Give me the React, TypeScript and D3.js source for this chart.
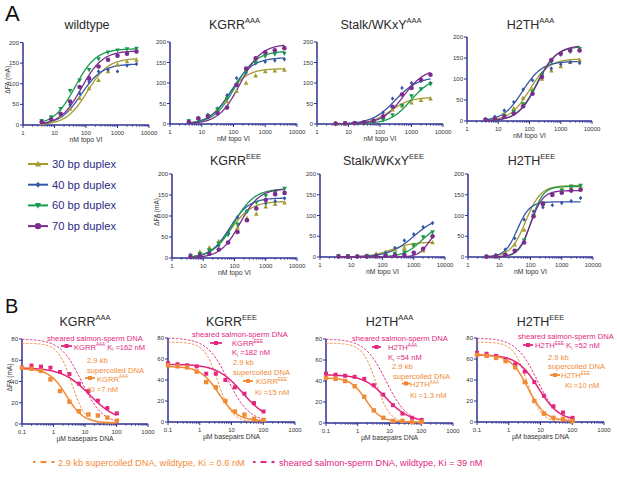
import React from 'react';
import * as d3 from 'd3';

const FONT = '"Liberation Sans", Arial, sans-serif';
const NAVY = '#2e3192';
const ORANGE = '#f28a35';
const PINK = '#e3267e';

// ---- panel A: binding titrations, nM topo VI ----
const topoNM = [3.9, 7.8, 15.6, 31.3, 62.5, 125, 250, 500, 1000, 2000, 4000];
const duplexes = ['30 bp duplex', '40 bp duplex', '60 bp duplex', '70 bp duplex'];
const duplexColors = ['#a59b30', '#3657a7', '#179a4e', '#7b2c8f'];
const duplexMarks = ['up', 'diamond', 'down', 'circle'];

// series order: 30, 40, 60, 70 bp
const wildtypeFA = [
  [4, 11, 22, 39, 65, 89, 109, 130, 146, 154, 158],
  [7, 12, 24, 49, 77, 105, 130, 134, 130, 144, 148],
  [10, 19, 39, 83, 108, 134, 160, 176, 181, 184, 185],
  [7, 14, 27, 57, 92, 113, 142, 158, 168, 173, 178],
];
const kgrrAAAFA = [
  [8, 14, 22, 35, 55, 80, 100, 118, 128, 130, 132],
  [6, 12, 22, 38, 70, 112, 125, 148, 152, 155, 158],
  [7, 12, 20, 35, 62, 95, 130, 150, 165, 170, 172],
  [5, 14, 18, 27, 40, 95, 135, 160, 175, 180, 185],
];
const stalkAAAFA = [
  [1, 1, 2, 4, 8, 20, 35, 45, 52, 58, 62],
  [2, 2, 3, 5, 10, 28, 62, 88, 100, 105, 100],
  [0, 1, 2, 3, 5, 10, 22, 45, 68, 85, 97],
  [1, 2, 2, 4, 8, 18, 42, 72, 88, 108, 120],
];
const h2thAAAFA = [
  [4, 8, 18, 30, 55, 75, 100, 120, 130, 140, 145],
  [5, 10, 25, 45, 75, 97, 112, 125, 135, 140, 138],
  [3, 6, 12, 22, 40, 70, 110, 140, 158, 165, 172],
  [3, 6, 10, 18, 35, 65, 105, 145, 160, 168, 168],
];
const kgrrEEEFA = [
  [5, 15, 25, 40, 60, 72, 95, 105, 122, 128, 132],
  [8, 10, 18, 30, 60, 97, 112, 120, 130, 135, 142],
  [5, 10, 18, 35, 55, 80, 110, 132, 148, 155, 165],
  [3, 6, 10, 20, 37, 62, 90, 118, 138, 152, 155],
];
const stalkEEEFA = [
  [2, 1, 2, 3, 8, 12, 18, 22, 30, 15, 35],
  [3, 2, 2, 3, 5, 10, 22, 40, 55, 72, 82],
  [2, 2, 1, 2, 3, 5, 8, 12, 28, 48, 60],
  [1, 1, 1, 1, 2, 3, 4, 5, 10, 20, 50],
];
const h2thEEEFA = [
  [1, 3, 10, 30, 65, 100, 130, 150, 165, 168, 170],
  [2, 5, 18, 45, 90, 110, 120, 125, 130, 135, 142],
  [0, 1, 5, 15, 40, 100, 130, 150, 160, 170, 172],
  [1, 2, 5, 15, 35, 98, 128, 150, 155, 160, 162],
];

// fitted curves: [top, EC50 nM, hill]
const wildtypeFit = [[162, 110, 1.3], [148, 70, 1.3], [185, 45, 1.3], [180, 72, 1.3]];
const kgrrAAAFit = [[135, 65, 1.4], [162, 85, 1.3], [178, 110, 1.3], [195, 160, 1.3]];
const stalkAAAFit = [[65, 220, 1.4], [115, 300, 1.2], [115, 950, 1.3], [135, 550, 1.3]];
const h2thAAAFit = [[148, 100, 1.4], [142, 60, 1.4], [178, 170, 1.4], [180, 180, 1.4]];
const kgrrEEEFit = [[135, 75, 1.3], [143, 70, 1.4], [165, 95, 1.3], [165, 150, 1.4]];
const stalkEEEFit = [[36, 200, 1.3], [100, 1000, 1.1], [80, 1800, 1.5], [70, 3000, 2.5]];
const h2thEEEFit = [[172, 70, 1.8], [133, 38, 2.2], [170, 105, 2.3], [160, 100, 2.2]];

// ---- panel B: competition, µM basepairs DNA ----
const dnaUM = [0.1, 0.2, 0.4, 0.8, 1.6, 3.2, 6.4, 12.8, 25.6, 51.2, 102.4];
const kgrrAAASheared = [53, 55, 54, 53, 49, 47, 38, 31, 22, 15, 10];
const kgrrAAASupercoiled = [53, 52, 50, 42, 31, 21, 12, 9, 8, 6, 3];
const kgrrEEESheared = [56, 55, 54, 53, 46, 46, 40, 33, 27, 18, 10];
const kgrrEEESupercoiled = [54, 53, 52, 48, 38, 33, 20, 10, 7, 3, 2];
const h2thAAASheared = [47, 46, 45, 44, 42, 36, 27, 17, 9, 5, 3];
const h2thAAASupercoiled = [43, 42, 40, 35, 25, 12, 5, 2, 2, 1, 1];
const h2thEEESheared = [66, 65, 63, 60, 55, 48, 38, 25, 15, 9, 4];
const h2thEEESupercoiled = [64, 63, 61, 58, 52, 38, 20, 8, 4, 3, 1];

// fits: [top, bottom, IC50 µM, hill]
const kgrrAAAFits = [[53, 2, 14, 1.0], [52, 1, 2.6, 1.6]];
const kgrrEEEFits = [[55, 1, 22, 1.1], [53, 1, 4, 1.5]];
const h2thAAAFits = [[46, 1, 8, 1.2], [43, 1, 1.8, 1.8]];
const h2thEEEFits = [[64, 1, 8.5, 1.3], [64, 1, 4, 1.6]];
const wildtypeRefFits = [[80, 0, 7.8, 1.3], [76, 0, 3.8, 2.0]]; // sheared, supercoiled

const bindCurve = ([top, ec, h]: number[]) => (x: number) => top * Math.pow(x, h) / (Math.pow(ec, h) + Math.pow(x, h));
const compCurve = ([top, bot, ic, h]: number[]) => (x: number) => bot + (top - bot) / (1 + Math.pow(x / ic, h));

type Part = [string, string?];
const Rich = ({ x, y, parts, fill, size, anchor }: any) => {
  let shift = 0;
  return (
    <text x={x} y={y} fill={fill} fontSize={size} fontFamily={FONT} textAnchor={anchor || 'start'}>
      {parts.map(([t, k]: Part, i: number) => {
        const target = k === 'sup' ? -size * 0.45 : k === 'sub' ? size * 0.25 : 0;
        const dy = target - shift;
        shift = target;
        return <tspan key={i} dy={dy} fontSize={k ? size * 0.6 : size}>{t}</tspan>;
      })}
    </text>
  );
};

const Marker = ({ kind, x, y, color, s = 2.4 }: any) => {
  if (kind === 'circle') return <circle cx={x} cy={y} r={s} fill={color} />;
  if (kind === 'square') return <rect x={x - s} y={y - s} width={2 * s} height={2 * s} fill={color} />;
  if (kind === 'diamond') return <path d={`M${x},${y - s}L${x + s * 0.8},${y}L${x},${y + s}L${x - s * 0.8},${y}Z`} fill={color} />;
  const d = kind === 'up' ? 1 : -1;
  return <path d={`M${x},${y - d * s * 1.1}L${x + s},${y + d * s * 0.8}L${x - s},${y + d * s * 0.8}Z`} fill={color} />;
};

const LogAxes = ({ p, xDom, yMax, yTicks, xLabel, yLabel, yLabelX }: any) => {
  const x = d3.scaleLog().domain(xDom).range([p.x0, p.x1]);
  const y = d3.scaleLinear().domain([0, yMax]).range([p.yBot, p.yTop]);
  const lo = Math.log10(xDom[0]), hi = Math.log10(xDom[1]);
  const minors: number[] = [];
  const majors: number[] = [];
  for (let e = lo; e <= hi; e++) {
    majors.push(Math.pow(10, e));
    if (e < hi) for (let k = 2; k <= 9; k++) minors.push(k * Math.pow(10, e));
  }
  return (
    <g fontFamily={FONT}>
      {minors.map((v, i) => <line key={'m' + i} x1={x(v)} x2={x(v)} y1={p.yBot} y2={p.yBot + 1.8} stroke={NAVY} strokeWidth={0.8} />)}
      {majors.map((v, i) => (
        <g key={'M' + i}>
          <line x1={x(v)} x2={x(v)} y1={p.yBot} y2={p.yBot + 3} stroke={NAVY} strokeWidth={1} />
          <text x={x(v)} y={p.yBot + 9.5} fontSize={6} fill="#333" textAnchor="middle">{v < 1 ? v.toFixed(1) : String(v)}</text>
        </g>
      ))}
      {yTicks.map((v: number) => (
        <g key={'y' + v}>
          <line x1={p.x0 - 3} x2={p.x0} y1={y(v)} y2={y(v)} stroke={NAVY} strokeWidth={1} />
          <text x={p.x0 - 4} y={y(v) + 2} fontSize={6} fill="#333" textAnchor="end">{v}</text>
        </g>
      ))}
      <line x1={p.x0} x2={p.x1} y1={p.yBot} y2={p.yBot} stroke={NAVY} strokeWidth={1.5} />
      <line x1={p.x0} x2={p.x0} y1={p.yBot} y2={p.yTop} stroke={NAVY} strokeWidth={1.5} />
      <text x={(p.x0 + p.x1) / 2} y={p.yBot + 16.5} fontSize={6.8} fill="#333" textAnchor="middle">{xLabel}</text>
      {yLabel && (
        <text transform={`translate(${yLabelX},${(p.yTop + p.yBot) / 2 - 4}) rotate(-90)`} fontSize={6.5} fill="#333" textAnchor="middle">ΔFA (mA)</text>
      )}
    </g>
  );
};

const TopPanel = ({ p, title, sup, data, fits, yLabel }: any) => {
  const x = d3.scaleLog().domain([1, 10000]).range([p.x0, p.x1]);
  const y = d3.scaleLinear().domain([0, 200]).range([p.yBot, p.yTop]);
  const xs = d3.range(0, 121).map(i => Math.pow(10, Math.log10(3.9) + (i / 120) * (Math.log10(4000) - Math.log10(3.9))));
  return (
    <g>
      <Rich x={(p.x0 + p.x1) / 2 + 1} y={p.titleY} parts={[[title], [sup, 'sup']]} fill="#2a2a2a" size={12.5} anchor="middle" />
      <LogAxes p={p} xDom={[1, 10000]} yMax={200} yTicks={[0, 50, 100, 150, 200]} xLabel="nM topo VI" yLabel={yLabel} yLabelX={p.x0 - 13} />
      {fits.map((f: number[], si: number) => {
        const fn = bindCurve(f);
        const path = d3.line<number>().x(v => x(v)).y(v => y(fn(v)))(xs) || '';
        return <path key={'c' + si} d={path} fill="none" stroke={duplexColors[si]} strokeWidth={1.3} />;
      })}
      {data.map((ser: number[], si: number) => ser.map((v, i) => (
        <Marker key={si + '-' + i} kind={duplexMarks[si]} x={x(topoNM[i])} y={y(v)} color={duplexColors[si]} s={si === 1 ? 2.2 : 2.3} />
      )))}
    </g>
  );
};

const BottomPanel = ({ p, title, sup, sheared, supercoiled, fits, yLabel }: any) => {
  const x = d3.scaleLog().domain([0.1, 1000]).range([p.x0, p.x1]);
  const y = d3.scaleLinear().domain([0, 80]).range([p.yBot, p.yTop]);
  const xs = d3.range(0, 121).map(i => Math.pow(10, -1 + (i / 120) * 3));
  const curve = (fn: (v: number) => number) => d3.line<number>().x(v => x(v)).y(v => y(fn(v)))(xs) || '';
  return (
    <g>
      <Rich x={(p.x0 + p.x1) / 2} y={p.titleY} parts={[[title], [sup, 'sup']]} fill="#2a2a2a" size={12.5} anchor="middle" />
      <LogAxes p={p} xDom={[0.1, 1000]} yMax={80} yTicks={[0, 20, 40, 60, 80]} xLabel="µM basepairs DNA" yLabel={yLabel} yLabelX={p.x0 - 10} />
      <path d={curve(compCurve(wildtypeRefFits[0]))} fill="none" stroke={PINK} strokeWidth={1} strokeDasharray="2.5 1.5" />
      <path d={curve(compCurve(wildtypeRefFits[1]))} fill="none" stroke={ORANGE} strokeWidth={1} strokeDasharray="2.5 1.5" />
      <path d={curve(compCurve(fits[0]))} fill="none" stroke={PINK} strokeWidth={1.5} />
      <path d={curve(compCurve(fits[1]))} fill="none" stroke={ORANGE} strokeWidth={1.5} />
      {sheared.map((v: number, i: number) => <Marker key={'s' + i} kind="square" x={x(dnaUM[i])} y={y(v)} color={PINK} s={2} />)}
      {supercoiled.map((v: number, i: number) => <Marker key={'c' + i} kind="square" x={x(dnaUM[i])} y={y(v)} color={ORANGE} s={2.2} />)}
    </g>
  );
};

const topPanels = [
  { p: { x0: 23, x1: 149, yTop: 42.5, yBot: 125, titleY: 29 }, title: 'wildtype', sup: '', data: wildtypeFA, fits: wildtypeFit, yLabel: true },
  { p: { x0: 170, x1: 297, yTop: 42, yBot: 124, titleY: 29 }, title: 'KGRR', sup: 'AAA', data: kgrrAAAFA, fits: kgrrAAAFit },
  { p: { x0: 317, x1: 443, yTop: 42, yBot: 124, titleY: 29 }, title: 'Stalk/WKxY', sup: 'AAA', data: stalkAAAFA, fits: stalkAAAFit },
  { p: { x0: 467, x1: 592, yTop: 37, yBot: 121, titleY: 29 }, title: 'H2TH', sup: 'AAA', data: h2thAAAFA, fits: h2thAAAFit },
  { p: { x0: 172, x1: 297, yTop: 174, yBot: 258, titleY: 165 }, title: 'KGRR', sup: 'EEE', data: kgrrEEEFA, fits: kgrrEEEFit, yLabel: true },
  { p: { x0: 320, x1: 445, yTop: 174, yBot: 257, titleY: 165 }, title: 'Stalk/WKxY', sup: 'EEE', data: stalkEEEFA, fits: stalkEEEFit },
  { p: { x0: 468, x1: 593, yTop: 174, yBot: 257, titleY: 165 }, title: 'H2TH', sup: 'EEE', data: h2thEEEFA, fits: h2thEEEFit },
];

const bottomPanels = [
  { p: { x0: 22, x1: 148, yTop: 339, yBot: 424, titleY: 326 }, title: 'KGRR', sup: 'AAA', sheared: kgrrAAASheared, supercoiled: kgrrAAASupercoiled, fits: kgrrAAAFits, yLabel: true },
  { p: { x0: 168, x1: 295, yTop: 338, yBot: 422, titleY: 326 }, title: 'KGRR', sup: 'EEE', sheared: kgrrEEESheared, supercoiled: kgrrEEESupercoiled, fits: kgrrEEEFits },
  { p: { x0: 326, x1: 453, yTop: 339, yBot: 423, titleY: 326 }, title: 'H2TH', sup: 'AAA', sheared: h2thAAASheared, supercoiled: h2thAAASupercoiled, fits: h2thAAAFits },
  { p: { x0: 477, x1: 604, yTop: 338, yBot: 422, titleY: 326 }, title: 'H2TH', sup: 'EEE', sheared: h2thEEESheared, supercoiled: h2thEEESupercoiled, fits: h2thEEEFits },
];

// annotation text inside panel B: [x, y, color, parts]
const bNotes: [number, number, string, Part[]][] = [
  [47, 341, PINK, [['sheared salmon-sperm DNA']]],
  [74, 349.5, PINK, [['KGRR'], ['AAA', 'sup'], [' K'], ['i', 'sub'], [' =162 nM']]],
  [87, 362.5, ORANGE, [['2.9 kb']]],
  [87, 372.5, ORANGE, [['supercoiled DNA']]],
  [97, 381.5, ORANGE, [['KGRR'], ['AAA', 'sup']]],
  [88, 392, ORANGE, [['Ki =7 nM']]],
  [192, 337, PINK, [['sheared salmon-sperm DNA']]],
  [232, 346, PINK, [['KGRR'], ['EEE', 'sup']]],
  [232, 355, PINK, [['K'], ['i', 'sub'], [' =182 nM']]],
  [233, 365, ORANGE, [['2.9 kb']]],
  [233, 374.5, ORANGE, [['supercoiled DNA']]],
  [256, 384, ORANGE, [['KGRR'], ['EEE', 'sup']]],
  [255, 395, ORANGE, [['Ki =15 nM']]],
  [352, 341, PINK, [['sheared salmon-sperm DNA']]],
  [388, 350, PINK, [['H2TH'], ['AAA', 'sup']]],
  [388, 360, PINK, [['K'], ['i', 'sub'], [' =54 nM']]],
  [392, 369, ORANGE, [['2.9 kb']]],
  [393, 378.5, ORANGE, [['supercoiled DNA']]],
  [410, 387, ORANGE, [['H2TH'], ['AAA', 'sup']]],
  [410, 397.5, ORANGE, [['Ki =1.3 nM']]],
  [518, 339, PINK, [['sheared salmon-sperm DNA']]],
  [535, 348, PINK, [['H2TH'], ['EEE', 'sup'], [' K'], ['i', 'sub'], [' =52 nM']]],
  [548, 360, ORANGE, [['2.9 kb']]],
  [548, 369, ORANGE, [['supercoiled DNA']]],
  [561, 378, ORANGE, [['H2TH'], ['EEE', 'sup']]],
  [565, 387.5, ORANGE, [['Ki =10 nM']]],
];
// small legend glyphs beside the notes: [x1, x2, y, color]
const bGlyphs: [number, number, number, string][] = [
  [61, 72, 346, PINK], [85, 95, 378, ORANGE],
  [210, 222, 343, PINK], [243, 253, 381, ORANGE],
  [372, 381, 347, PINK], [402, 410, 383.5, ORANGE],
  [523, 533, 345, PINK], [550, 560, 375, ORANGE],
];

export default function App() {
  return (
    <svg width={617} height={483} style={{ position: 'absolute', left: 0, top: 0, background: '#fff' }} fontFamily={FONT}>
      <text x={5} y={21} fontSize={22} fill="#111">A</text>
      <text x={5} y={313} fontSize={20} fill="#111">B</text>
      {topPanels.map((tp, i) => <TopPanel key={i} {...tp} />)}
      {duplexes.map((name, i) => {
        const cy = 164 + i * 20.7;
        return (
          <g key={name}>
            <line x1={28} x2={48} y1={cy} y2={cy} stroke={duplexColors[i]} strokeWidth={2} />
            <Marker kind={duplexMarks[i]} x={38} y={cy} color={duplexColors[i]} s={i === 3 ? 3.2 : 3} />
            <text x={52} y={cy + 4} fontSize={11.2} fill="#2b2e83">{name}</text>
          </g>
        );
      })}
      {bottomPanels.map((bp, i) => <BottomPanel key={i} {...bp} />)}
      {bGlyphs.map(([a, b, yy, c], i) => (
        <g key={'g' + i}>
          <line x1={a} x2={b} y1={yy} y2={yy} stroke={c} strokeWidth={1.8} />
          <Marker kind="square" x={(a + b) / 2} y={yy} color={c} s={2} />
        </g>
      ))}
      {bNotes.map(([x, y, c, parts], i) => <Rich key={'n' + i} x={x} y={y} fill={c} size={7.6} parts={parts} />)}
      <line x1={33} x2={56} y1={462} y2={462} stroke={ORANGE} strokeWidth={2} strokeDasharray="2.5 5 6 5 3" />
      <text x={58} y={465.5} fontSize={9.2} fill={ORANGE}>2.9 kb supercoiled DNA, wildtype, Ki = 0.6 nM</text>
      <line x1={253} x2={277} y1={462} y2={462} stroke={PINK} strokeWidth={2} strokeDasharray="2.5 5 6 5 3" />
      <text x={279} y={465.5} fontSize={9.2} fill={PINK}>sheared salmon-sperm DNA, wildtype, Ki = 39 nM</text>
    </svg>
  );
}
